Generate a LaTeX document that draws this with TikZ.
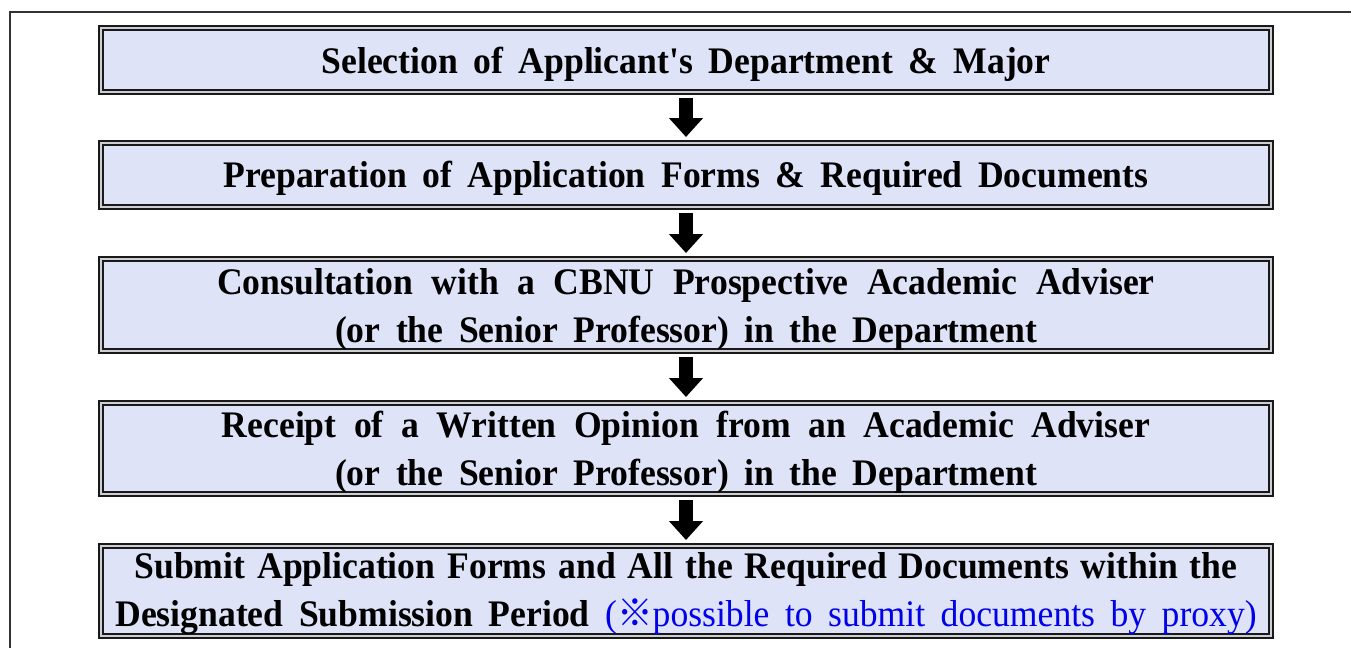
\documentclass[tikz,border=0pt]{standalone}
\usepackage{fontspec}
\setmainfont{Liberation Serif}
\newfontfamily\tallfont{Liberation Serif}[FakeStretch=0.95]
\newfontfamily\cjk{Noto Sans CJK KR}[FakeStretch=0.95]
\usetikzlibrary{arrows.meta}
\definecolor{boxfill}{RGB}{222,227,247}
\definecolor{gapcol}{RGB}{205,205,212}
\definecolor{proxyblue}{RGB}{0,0,235}
\newcommand\stepfont{\tallfont\fontsize{37.5}{48}\bfseries\selectfont\spaceskip=15.5pt plus 3pt\relax}
\newcommand\gap[1]{\spaceskip=#1pt plus 3pt\relax}
\tikzset{
  stepbox/.style={draw=black!90, double=gapcol, double distance=2pt, line width=2pt,
    fill=boxfill, minimum width=1170pt, inner sep=0pt, outer sep=0pt},
  steptext/.style={inner sep=0pt, align=center, font={\stepfont}},
  flowarrow/.style={line width=14pt, -{Triangle[width=33pt,length=19pt]},
    shorten <=6pt, shorten >=6pt},
  frameline/.style={draw=black!80, line width=1.5pt},
}
\begin{document}
\begin{tikzpicture}[x=1pt,y=-1pt]
\useasboundingbox (0,0) rectangle (1351,648);
\fill[white] (0,0) rectangle (1351,648);
\draw[frameline] (10,648) -- (10,12) -- (1351,12);

\node[stepbox, minimum height=64pt] (s1) at (686,60) {};
\node[stepbox, minimum height=64pt] (s2) at (686,175) {};
\node[stepbox, minimum height=92pt] (s3) at (686,305) {};
\node[stepbox, minimum height=91pt] (s4) at (686,448.5) {};
\node[stepbox, minimum height=90pt] (s5) at (686,591) {};

\node[steptext] (t1) at ([yshift=-4pt]s1.center)
  {Selection of Applicant\textquotesingle s Department \& Major};
\node[steptext] (t2) at ([yshift=-3pt]s2.center)
  {Preparation of Application Forms \& Required Documents};
\node[steptext] (t3) at ([yshift=-4pt]s3.center)
  {{\gap{18.5}Consultation with a CBNU Prospective Academic Adviser}\\(or the Senior Professor) in the Department};
\node[steptext] (t4) at ([yshift=-4pt]s4.center)
  {{\gap{17.5}Receipt of a Written Opinion from an Academic Adviser}\\(or the Senior Professor) in the Department};
\node[steptext] (t5) at ([yshift=-3pt]s5.center)
  {{\gap{12}Submit Application Forms and All the Required Documents within the}\\Designated Submission Period {\mdseries\color{proxyblue}({\cjk ※}possible to submit documents by proxy)}};

\draw[flowarrow] (s1.south) -- (s2.north);
\draw[flowarrow] (s2.south) -- (s3.north);
\draw[flowarrow] (s3.south) -- (s4.north);
\draw[flowarrow] (s4.south) -- (s5.north);
\end{tikzpicture}
\end{document}
